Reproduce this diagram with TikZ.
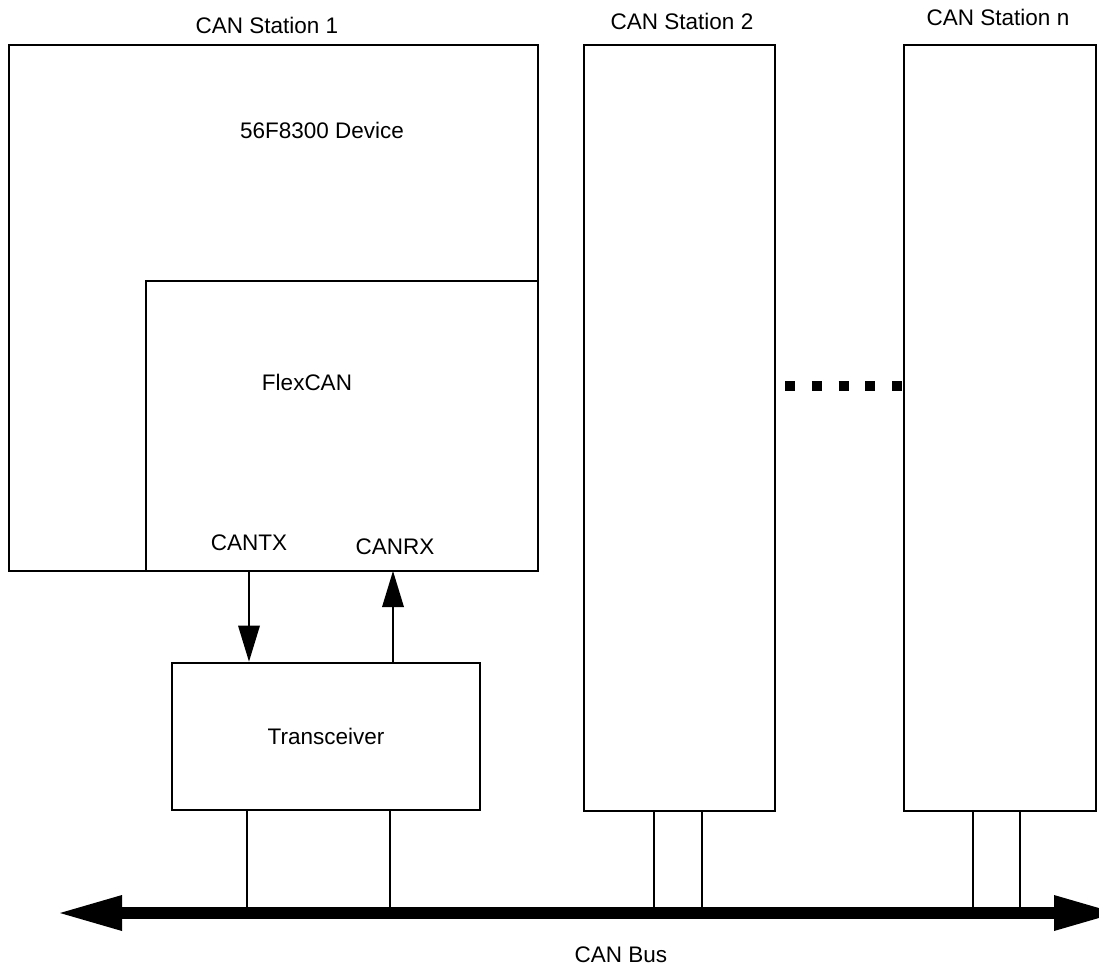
\documentclass[tikz,border=0pt]{standalone}
\usepackage{fontspec}
\setmainfont{Liberation Sans}
\usetikzlibrary{arrows.meta}
\begin{document}
\begin{tikzpicture}[x=1pt,y=-1pt,
  box/.style={draw,line width=2.8pt,inner sep=0pt,font=\fontsize{22.5}{27}\selectfont},
  lbl/.style={inner sep=0pt,font=\fontsize{22.5}{27}\selectfont},
  wire/.style={line width=2.7pt},
  sig/.style={line width=2.7pt,-{Triangle[length=36pt,width=22pt,line width=0pt]}},
  bus/.style={line width=11.6pt,{Triangle[length=62pt,width=36pt,line width=0pt]}-{Triangle[length=62pt,width=36pt,line width=0pt]}},
  dots/.style={line width=10.5pt,dash pattern=on 10pt off 16.75pt}]
\useasboundingbox (0,0) rectangle (1099,966);
% boxes
\node[box,minimum width=529pt,minimum height=526pt] (st1) at (273.5,308) {};
\node[box,minimum width=392pt,minimum height=290pt] (flex) at (342,426) {};
\node[box,minimum width=308pt,minimum height=147pt] (trx) at (326,736.5) {Transceiver};
\node[box,minimum width=191pt,minimum height=766pt] (st2) at (679.5,428) {};
\node[box,minimum width=192pt,minimum height=766pt] (stn) at (1000,428) {};
% labels
\node[lbl] (l1) at (267,25) {CAN Station 1};
\node[lbl] (l2) at (682,21) {CAN Station 2};
\node[lbl] (ln) at (998,17) {CAN Station n};
\node[lbl] (dev) at (322,130) {56F8300 Device};
\node[lbl] (fc) at (307,382) {FlexCAN};
\node[lbl] (tx) at (249,543) {CANTX};
\node[lbl] (rx) at (395,547) {CANRX};
\node[lbl] (busl) at (621,955) {CAN Bus};
% signals
\coordinate (txp) at (249,571);
\coordinate (rxp) at (393,571);
\draw[sig] (txp) -- (txp |- trx.north);
\draw[sig] (rxp |- trx.north) -- (rxp);
% bus
\coordinate (bl) at (60,913);
\coordinate (br) at (1116,913);
\draw[bus] (bl) -- (br);
\coordinate (d1) at (247,913);
\coordinate (d2) at (390,913);
\coordinate (d3) at (654,913);
\coordinate (d4) at (702,913);
\coordinate (d5) at (973,913);
\coordinate (d6) at (1020,913);
\draw[wire] (trx.south -| d1) -- (d1);
\draw[wire] (trx.south -| d2) -- (d2);
\draw[wire] (st2.south -| d3) -- (d3);
\draw[wire] (st2.south -| d4) -- (d4);
\draw[wire] (stn.south -| d5) -- (d5);
\draw[wire] (stn.south -| d6) -- (d6);
% dots
\coordinate (dotA) at (785,386);
\draw[dots] (dotA) -- (stn.west |- dotA);
\end{tikzpicture}
\end{document}
